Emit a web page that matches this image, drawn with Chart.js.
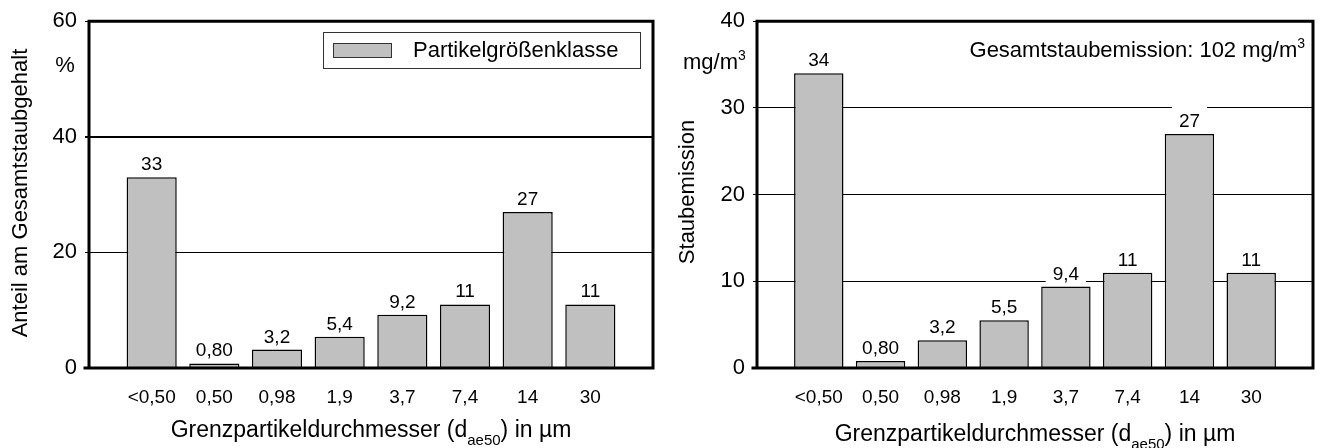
<!DOCTYPE html>
<html lang="de">
<head>
<meta charset="utf-8">
<title>Partikelgrößenverteilung</title>
<script src="https://cdn.jsdelivr.net/npm/chart.js@4.4.1/dist/chart.umd.min.js"></script>
<style>
  html, body { margin: 0; padding: 0; background: #fff; }
  #wrap { position: relative; width: 1323px; height: 448px; overflow: hidden; }
  #chartLeft { position: absolute; left: 0; top: 0; }
  #chartRight { position: absolute; left: 665px; top: 0; }
</style>
</head>
<body>
<div id="wrap">
  <canvas id="chartLeft" width="665" height="448"></canvas>
  <canvas id="chartRight" width="658" height="448"></canvas>
</div>
<script>
// ------------------------------------------
// Daten
// ------------------------------------------
const sizeClasses = ['<0,50', '0,50', '0,98', '1,9', '3,7', '7,4', '14', '30'];
const shareValues = [33, 0.8, 3.2, 5.4, 9.2, 11, 27, 11];      // Anteil in %
const emissionValues = [34, 0.8, 3.2, 5.5, 9.4, 11, 27, 11];   // Staubemission in mg/m3
const shareTicks = [0, 20, 40, 60];
const emissionTicks = [0, 10, 20, 30, 40];
const seriesLabel = 'Partikelgrößenklasse';
const totalEmission = 102;

const FONT = '"Liberation Sans", Arial, Helvetica, sans-serif';
const BAR_FILL = '#c0c0c0';

Chart.defaults.font.family = FONT;
Chart.defaults.color = '#000';

// leere Randkategorien, damit links und rechts je eine Klassenbreite frei bleibt
const xLabels = ['', ...sizeClasses, ''];
const padData = arr => [null, ...arr, null];

// Text mit Tief-/Hochstellung zeichnen
function drawRuns(ctx, runs, x, y, size, align) {
  const parts = runs.map(r => {
    const s = r.sub || r.sup ? Math.round(size * 0.65) : size;
    ctx.font = s + 'px ' + FONT;
    return { r, s, w: ctx.measureText(r.t).width };
  });
  const total = parts.reduce((a, p) => a + p.w, 0);
  let cx = align === 'center' ? x - total / 2 : align === 'right' ? x - total : x;
  ctx.textAlign = 'left';
  ctx.textBaseline = 'alphabetic';
  parts.forEach(p => {
    ctx.font = p.s + 'px ' + FONT;
    let dy = 0;
    if (p.r.sub) dy = size * 0.33;
    if (p.r.sup) dy = -size * 0.4;
    ctx.fillText(p.r.t, cx, y + dy);
    cx += p.w;
  });
}

const fmt = v => v.toPrecision(2).replace('.', ',');

// Rahmen um den Plotbereich
const framePlugin = {
  id: 'frame',
  afterDatasetsDraw(chart) {
    const { ctx, chartArea: a } = chart;
    ctx.save();
    ctx.strokeStyle = '#000';
    ctx.lineWidth = 3;
    ctx.lineCap = 'square';
    ctx.beginPath();
    ctx.moveTo(a.left - 4, a.bottom);
    ctx.lineTo(a.right, a.bottom);
    ctx.lineTo(a.right, a.top);
    ctx.lineTo(a.left, a.top);
    ctx.lineTo(a.left, a.bottom);
    ctx.stroke();
    ctx.restore();
  }
};

// Wertebeschriftung über den Balken (weiß hinterlegt)
const valueLabelPlugin = {
  id: 'valueLabels',
  afterDatasetsDraw(chart) {
    const ctx = chart.ctx;
    const meta = chart.getDatasetMeta(0);
    const data = chart.data.datasets[0].data;
    ctx.save();
    ctx.font = '19px ' + FONT;
    ctx.textAlign = 'center';
    ctx.textBaseline = 'alphabetic';
    meta.data.forEach((bar, i) => {
      const v = data[i];
      if (v == null) return;
      const txt = fmt(v);
      const w = ctx.measureText(txt).width;
      const base = bar.y - 7;
      const top = base - 23;
      ctx.fillStyle = '#fff';
      ctx.fillRect(bar.x - w / 2 - 7, top, w + 14, bar.y - 1 - top);
      ctx.fillStyle = '#000';
      ctx.fillText(txt, bar.x, base);
    });
    ctx.restore();
  }
};

// Achsentitel, Einheiten, Hinweise
const textPlugin = {
  id: 'texts',
  afterDraw(chart, args, opts) {
    const { ctx, chartArea: a } = chart;
    ctx.save();
    ctx.fillStyle = '#000';
    (opts.items || []).forEach(it => {
      const x = it.x === 'center' ? (a.left + a.right) / 2 : it.x;
      if (it.rotate) {
        ctx.save();
        ctx.translate(x, it.y);
        ctx.rotate(-Math.PI / 2);
        drawRuns(ctx, it.runs, 0, 0, it.size, it.align);
        ctx.restore();
      } else {
        drawRuns(ctx, it.runs, x, it.y, it.size, it.align);
      }
    });
    ctx.restore();
  }
};

// Legende mit Rahmen (nur linkes Diagramm)
const boxLegendPlugin = {
  id: 'boxLegend',
  afterDraw(chart, args, opts) {
    if (!opts.show) return;
    const ctx = chart.ctx;
    const ds = chart.data.datasets[0];
    ctx.save();
    ctx.strokeStyle = '#333';
    ctx.lineWidth = 1;
    ctx.fillStyle = '#fff';
    ctx.fillRect(323.5, 32.5, 317, 36);
    ctx.strokeRect(323.5, 32.5, 317, 36);
    ctx.fillStyle = ds.backgroundColor;
    ctx.fillRect(333.5, 43.5, 58, 14);
    ctx.strokeRect(333.5, 43.5, 58, 14);
    ctx.fillStyle = '#000';
    ctx.font = '22px ' + FONT;
    ctx.textAlign = 'left';
    ctx.textBaseline = 'middle';
    ctx.fillText(ds.label, 413, 51);
    ctx.restore();
  }
};

function makeChart(canvasId, values, ticks, cfg) {
  return new Chart(document.getElementById(canvasId), {
    type: 'bar',
    data: {
      labels: xLabels,
      datasets: [{
        label: seriesLabel,
        data: padData(values),
        backgroundColor: BAR_FILL,
        borderColor: '#000',
        borderWidth: 1.5,
        categoryPercentage: 1,
        barPercentage: 0.8
      }]
    },
    options: {
      responsive: false,
      animation: false,
      devicePixelRatio: 1,
      layout: { padding: { left: 0, top: 16, right: cfg.padRight, bottom: 0 } },
      plugins: {
        legend: { display: false },
        tooltip: { enabled: false },
        texts: { items: cfg.texts },
        boxLegend: { show: cfg.legend }
      },
      scales: {
        x: {
          type: 'category',
          offset: false,
          grid: { display: false },
          border: { display: false },
          ticks: { autoSkip: false, maxRotation: 0, font: { size: 19 }, color: '#000', padding: 10 },
          afterFit: s => { s.height = 80; }
        },
        y: {
          min: ticks[0],
          max: ticks[ticks.length - 1],
          border: { display: false },
          grid: {
            color: '#000',
            lineWidth: c => (c.tick && c.tick.value === cfg.boldGrid ? 2 : 1),
            tickLength: 4,
            tickColor: '#000'
          },
          ticks: {
            stepSize: ticks[1] - ticks[0],
            font: { size: 22 },
            color: '#000',
            padding: 8
          },
          afterFit: s => { s.width = cfg.axisWidth; }
        }
      }
    },
    plugins: [framePlugin, valueLabelPlugin, textPlugin, boxLegendPlugin]
  });
}

const xTitleRuns = [{ t: 'Grenzpartikeldurchmesser (d' }, { t: 'ae50', sub: true }, { t: ') in µm' }];

document.addEventListener('DOMContentLoaded', () => {
  makeChart('chartLeft', shareValues, shareTicks, {
    padRight: 12,
    axisWidth: 89,
    boldGrid: 40,
    legend: true,
    texts: [
      { runs: [{ t: 'Anteil am Gesamtstaubgehalt' }], x: 27, y: 193, size: 22, align: 'center', rotate: true },
      { runs: [{ t: '%' }], x: 65, y: 72, size: 22, align: 'center' },
      { runs: xTitleRuns, x: 'center', y: 437, size: 23, align: 'center' }
    ]
  });

  makeChart('chartRight', emissionValues, emissionTicks, {
    padRight: 4,
    axisWidth: 92,
    boldGrid: null,
    legend: false,
    texts: [
      { runs: [{ t: 'Staubemission' }], x: 29, y: 192, size: 22, align: 'center', rotate: true },
      { runs: [{ t: 'mg/m' }, { t: '3', sup: true }], x: 18, y: 69, size: 22, align: 'left' },
      { runs: [{ t: 'Gesamtstaubemission: ' + totalEmission + ' mg/m' }, { t: '3', sup: true }], x: 640, y: 57, size: 22, align: 'right' },
      { runs: xTitleRuns, x: 'center', y: 441, size: 23, align: 'center' }
    ]
  });
});
</script>
</body>
</html>
